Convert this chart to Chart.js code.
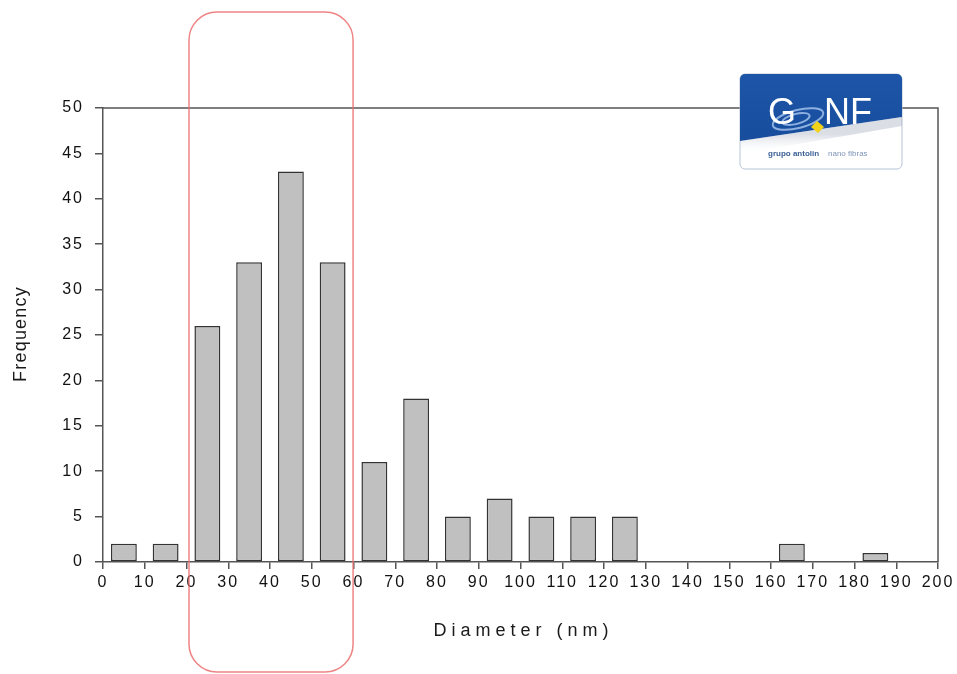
<!DOCTYPE html>
<html lang="en">
<head>
    <meta charset="UTF-8">
    <title>Diameter histogram</title>
    <script src="https://cdn.jsdelivr.net/npm/chart.js"></script>
    <style>
        html, body { margin: 0; padding: 0; background: #fff; overflow: hidden; }
        #wrap { width: 957px; height: 674px; position: relative; }
    </style>
</head>
<body>
    <div id="wrap"><canvas id="hist" width="957" height="674"></canvas></div>

    <script>
        // Histogram data (bin centres in nm, counts)
        const binCenters = [5, 15, 25, 35, 45, 55, 65, 75, 85, 95, 105, 115, 125, 165, 185];
        const frequencies = [2, 2, 26, 33, 43, 33, 11, 18, 5, 7, 5, 5, 5, 2, 1];
        const xLabel = 'Diameter (nm)';
        const yLabel = 'Frequency';
        // highlighted range (nm)
        const highlightRange = [20.6, 59.9];

        const FONT = '"Liberation Sans", Arial, sans-serif';
        const AXIS = '#555';

        // frame, titles, red highlight box and logo
        const decorations = {
            id: 'decorations',
            beforeDraw(chart) {
                chart.ctx.letterSpacing = '2px';
            },
            beforeDatasetsDraw(chart) {
                const { ctx, chartArea: a } = chart;
                ctx.save();
                ctx.strokeStyle = AXIS;
                ctx.lineWidth = 1.5;
                ctx.beginPath();
                ctx.moveTo(a.left, a.top);
                ctx.lineTo(a.right, a.top);
                ctx.lineTo(a.right, a.bottom);
                ctx.stroke();
                ctx.restore();
            },
            afterDraw(chart) {
                const { ctx, chartArea: a, scales } = chart;
                ctx.save();
                ctx.fillStyle = '#1a1a1a';
                ctx.textAlign = 'center';
                ctx.textBaseline = 'middle';
                ctx.font = '18px ' + FONT;
                ctx.letterSpacing = '5px';
                ctx.fillText(xLabel, (a.left + a.right) / 2 + 3, 631);
                ctx.translate(21, 334);
                ctx.rotate(-Math.PI / 2);
                ctx.letterSpacing = '1.2px';
                ctx.fillText(yLabel, 0, 0);
                ctx.restore();

                // red rounded highlight
                const x1 = scales.x.getPixelForValue(highlightRange[0]);
                const x2 = scales.x.getPixelForValue(highlightRange[1]);
                ctx.save();
                ctx.strokeStyle = 'rgba(235, 110, 110, 0.85)';
                ctx.lineWidth = 1.5;
                ctx.beginPath();
                ctx.roundRect(x1, 12, x2 - x1, 672 - 12, 28);
                ctx.stroke();
                ctx.restore();

                drawLogo(ctx, 740, 74, 162, 95);
            }
        };

        function drawLogo(ctx, x, y, w, h) {
            ctx.save();
            ctx.beginPath();
            ctx.roundRect(x, y, w, h, 5);
            ctx.fillStyle = '#fff';
            ctx.fill();
            ctx.strokeStyle = '#b8c4d6';
            ctx.lineWidth = 1;
            ctx.stroke();
            ctx.clip();

            // blue upper part
            const g = ctx.createLinearGradient(x, y, x, y + h);
            g.addColorStop(0, '#1d55a8');
            g.addColorStop(1, '#164a98');
            ctx.fillStyle = g;
            ctx.beginPath();
            ctx.moveTo(x, y);
            ctx.lineTo(x + w, y);
            ctx.lineTo(x + w, y + 43);
            ctx.lineTo(x, y + 67);
            ctx.closePath();
            ctx.fill();

            // soft grey shading under the diagonal
            const s = ctx.createLinearGradient(x, y + 60, x, y + 80);
            s.addColorStop(0, 'rgba(150,160,180,0.35)');
            s.addColorStop(1, 'rgba(255,255,255,0)');
            ctx.fillStyle = s;
            ctx.beginPath();
            ctx.moveTo(x, y + 67);
            ctx.lineTo(x + w, y + 43);
            ctx.lineTo(x + w, y + 52);
            ctx.lineTo(x, y + 80);
            ctx.closePath();
            ctx.fill();

            // swirl
            ctx.strokeStyle = 'rgba(170, 200, 240, 0.8)';
            ctx.lineWidth = 2;
            ctx.beginPath();
            ctx.ellipse(x + 58, y + 45, 26, 9, -0.25, 0, Math.PI * 2);
            ctx.stroke();
            ctx.beginPath();
            ctx.ellipse(x + 56, y + 45, 14, 5, -0.25, 0, Math.PI * 2);
            ctx.stroke();

            // yellow diamond
            ctx.fillStyle = '#f3d21a';
            ctx.beginPath();
            ctx.moveTo(x + 77, y + 47);
            ctx.lineTo(x + 84, y + 53);
            ctx.lineTo(x + 78, y + 59);
            ctx.lineTo(x + 71, y + 53);
            ctx.closePath();
            ctx.fill();

            ctx.fillStyle = '#fff';
            ctx.font = '36px ' + FONT;
            ctx.letterSpacing = '0px';
            ctx.textBaseline = 'alphabetic';
            ctx.textAlign = 'left';
            ctx.fillText('G', x + 28, y + 50);
            ctx.fillText('NF', x + 84, y + 50);

            ctx.font = 'bold 8px ' + FONT;
            ctx.fillStyle = '#3a5f95';
            ctx.fillText('grupo antolin', x + 28, y + 82);
            ctx.font = '8px ' + FONT;
            ctx.fillStyle = '#7f95b8';
            ctx.fillText('nano fibras', x + 88, y + 82);
            ctx.restore();
        }

        const ctx = document.getElementById('hist').getContext('2d');
        new Chart(ctx, {
            type: 'bar',
            data: {
                datasets: [{
                    data: binCenters.map((c, i) => ({ x: c, y: frequencies[i] })),
                    backgroundColor: '#c0c0c0',
                    borderColor: '#333',
                    borderWidth: 1.5,
                    borderSkipped: false,
                    barPercentage: 0.62,
                    categoryPercentage: 1
                }]
            },
            options: {
                responsive: false,
                animation: false,
                devicePixelRatio: 1,
                layout: { padding: { top: 108, right: 19, left: 0, bottom: 0 } },
                plugins: { legend: { display: false }, tooltip: { enabled: false } },
                scales: {
                    x: {
                        type: 'linear',
                        min: 0,
                        max: 200,
                        offset: false,
                        afterFit(scale) { scale.height = 112; },
                        ticks: {
                            stepSize: 10,
                            autoSkip: false,
                            maxRotation: 0,
                            padding: 4,
                            color: '#111',
                            font: { family: FONT, size: 16 }
                        },
                        grid: {
                            drawOnChartArea: false,
                            offset: false,
                            tickLength: 7,
                            color: AXIS,
                            lineWidth: 1.5
                        },
                        border: { color: AXIS, width: 1.5 }
                    },
                    y: {
                        min: 0,
                        max: 50,
                        afterFit(scale) { scale.width = 103; },
                        ticks: {
                            stepSize: 5,
                            padding: 11,
                            color: '#111',
                            font: { family: FONT, size: 16 }
                        },
                        grid: {
                            drawOnChartArea: false,
                            tickLength: 8,
                            color: AXIS,
                            lineWidth: 1.5
                        },
                        border: { color: AXIS, width: 1.5 }
                    }
                }
            },
            plugins: [decorations]
        });
    </script>
</body>
</html>
